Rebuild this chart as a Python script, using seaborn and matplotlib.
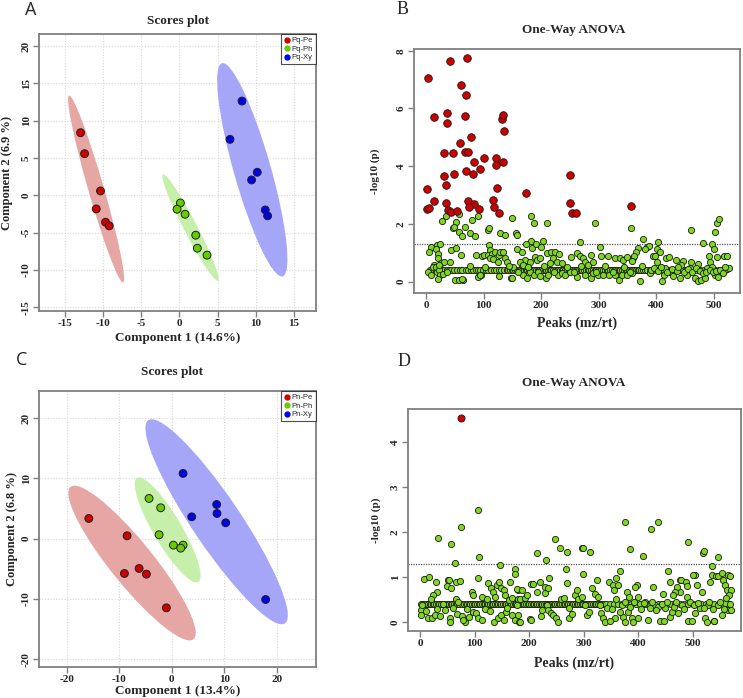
import numpy as np
import pandas as pd
import seaborn as sns
import matplotlib.pyplot as plt
from matplotlib.patches import Ellipse
from matplotlib.lines import Line2D

# ---- panel A : PLS-DA scores, Pq
a_groups = ['Pq-Pe'] * 6 + ['Pq-Ph'] * 6 + ['Pq-Xy'] * 6
a_comp1 = [-12.95, -12.43, -10.34, -10.90, -9.68, -9.20,
           0.13, -0.31, 0.74, 2.14, 2.35, 3.62,
           8.20, 6.63, 10.20, 9.46, 11.25, 11.56]
a_comp2 = [8.38, 5.57, 0.58, -1.83, -3.61, -4.10,
           -1.03, -1.87, -2.54, -5.35, -7.09, -8.02,
           12.62, 7.49, 3.08, 2.05, -1.96, -2.76]

# ---- panel C : PLS-DA scores, Pn
c_groups = ['Pn-Pe'] * 6 + ['Pn-Ph'] * 6 + ['Pn-Xy'] * 6
c_comp1 = [-15.81, -8.51, -9.02, -6.22, -4.83, -1.02,
           -4.32, -2.10, -2.41, 0.32, 2.16, 1.71,
           2.16, 3.81, 8.57, 8.63, 10.29, 17.90]
c_comp2 = [3.35, 0.47, -5.78, -4.95, -5.89, -11.48,
           6.67, 5.12, 0.64, -1.08, -1.08, -1.58,
           10.82, 3.62, 5.67, 4.18, 2.63, -10.10]

# ---- panel B : one-way ANOVA, Pq  (peak index, -log10 p)
b_sig = [(4, 7.04), (41, 7.63), (71, 7.76), (13, 5.69), (37, 5.84), (36, 5.49),
         (60, 6.82), (69, 6.47), (68, 5.73), (132, 5.64), (133, 5.77), (136, 5.23),
         (78, 5.02), (59, 4.82), (31, 4.47), (46, 4.47), (67, 4.50), (73, 4.48),
         (101, 4.30), (122, 4.30), (121, 4.05), (83, 4.13), (134, 4.15), (48, 3.73),
         (31, 3.67), (70, 3.82), (82, 3.73), (93, 3.90), (34, 3.36), (2, 3.22),
         (124, 3.26), (174, 3.09), (251, 3.68), (13, 2.78), (35, 2.73), (73, 2.79),
         (84, 2.70), (117, 2.82), (1, 2.52), (5, 2.56), (39, 2.49), (43, 2.42),
         (53, 2.46), (74, 2.58), (92, 2.51), (118, 2.59), (126, 2.39), (251, 2.71),
         (254, 2.37), (260, 2.37), (357, 2.64)]
b_ns = [(28, 2.10), (35, 2.27), (52, 2.06), (58, 2.33), (46, 1.85), (48, 1.89),
        (57, 1.71), (62, 1.59), (68, 1.88), (76, 1.70), (80, 2.15), (85, 1.57),
        (90, 2.27), (107, 1.79), (110, 1.85), (129, 1.69), (137, 1.61), (150, 2.21),
        (156, 1.69), (159, 1.62), (183, 2.26), (187, 2.04), (211, 2.03), (293, 2.03),
        (357, 1.87), (377, 1.47), (461, 1.80), (503, 1.71), (506, 2.04), (510, 2.19),
        (482, 1.35), (403, 1.39), (183, 1.41), (203, 1.41), (268, 1.39),
        (8, 1.21), (19, 1.27), (25, 1.29), (5, 1.04), (17, 1.13), (20, 0.95),
        (21, 0.81), (26, 0.65), (32, 0.67), (14, 0.58), (4, 0.35), (9, 0.25),
        (12, 0.50), (17, 0.51), (19, 0.35), (23, 0.39), (25, 0.23), (30, 0.28),
        (21, 0.08), (42, 0.69), (44, 1.09), (52, 1.18), (51, 0.07), (57, 0.06),
        (65, 0.07), (61, 0.94), (87, 0.92), (97, 0.89), (101, 0.92), (109, 1.27),
        (111, 1.10), (107, 0.92), (114, 0.96), (120, 1.04), (126, 0.92), (129, 1.04),
        (133, 1.04), (137, 0.81), (140, 0.69), (76, 0.53), (92, 0.21), (95, 0.25),
        (103, 0.52), (111, 0.81), (117, 0.79), (125, 0.70), (148, 0.12), (152, 0.52),
        (159, 1.15), (167, 0.58), (171, 0.54), (36, 0.35), (23, 0.58), (91, 0.15),
        (94, 0.23), (127, 0.20), (150, 0.12), (63, 0.08),
        (173, 1.30), (185, 1.18), (191, 1.29), (200, 1.19), (303, 1.20), (167, 1.04),
        (172, 0.75), (180, 0.69), (190, 0.87), (193, 0.75), (199, 0.81), (210, 0.98),
        (217, 1.04), (224, 1.02), (231, 0.95), (220, 0.81), (215, 0.64), (227, 0.69),
        (237, 0.64), (252, 0.87), (263, 0.98), (268, 0.90), (273, 0.81), (277, 0.69),
        (282, 0.58), (287, 0.92), (291, 0.69), (305, 0.90), (317, 0.90), (329, 0.81),
        (337, 0.81), (342, 0.75), (350, 0.85), (360, 0.81), (163, 0.69), (169, 0.58),
        (181, 0.35), (187, 0.23), (195, 0.35), (199, 0.21), (208, 0.12), (212, 0.23),
        (230, 0.25), (236, 0.29), (241, 0.25), (250, 0.35), (263, 0.17), (276, 0.25),
        (286, 0.12), (291, 0.29), (299, 0.23), (308, 0.25), (319, 0.23), (328, 0.23),
        (335, 0.06), (340, 0.25), (349, 0.23), (359, 0.29), (169, 0.23), (176, 0.12),
        (368, 1.18), (365, 1.02), (362, 0.90), (359, 0.72), (384, 1.21), (387, 1.24),
        (381, 1.13), (401, 1.15), (407, 1.02), (394, 0.89), (398, 0.90), (401, 0.69),
        (418, 0.81), (423, 0.87), (434, 0.75), (447, 0.72), (444, 0.58), (461, 0.69),
        (473, 0.60), (492, 0.90), (494, 0.69), (498, 1.29), (500, 1.15), (506, 0.87),
        (518, 0.89), (524, 0.89), (488, 0.46), (497, 0.52), (372, 0.02), (390, 0.29),
        (410, 0.02), (413, 0.23), (424, 0.35), (430, 0.20), (442, 0.12), (453, 0.23),
        (468, 0.12), (473, 0.02), (479, 0.06), (485, 0.12), (502, 0.23), (507, 0.17),
        (523, 0.44), (526, 0.46), (415, 0.46), (459, 0.49),
        (392, 0.40), (397, 0.47), (404, 0.36), (409, 0.50), (419, 0.33), (427, 0.45),
        (436, 0.38), (438, 0.52), (449, 0.35), (456, 0.44), (463, 0.32), (470, 0.48),
        (476, 0.37), (481, 0.30), (487, 0.34), (494, 0.41), (499, 0.33), (505, 0.37),
        (511, 0.42), (516, 0.30), (520, 0.50), (145, 0.55), (160, 0.33), (178, 0.50),
        (205, 0.55), (222, 0.32), (245, 0.52), (258, 0.34), (270, 0.55), (296, 0.33),
        (312, 0.55), (325, 0.35), (345, 0.52), (355, 0.34), (375, 0.55)]
# peaks sitting on the common baseline value
b_base_level = 0.42
b_base_x = [6, 10, 14, 18, 22, 27, 31, 36, 40, 44, 49, 54, 59, 63, 69, 73, 78, 81,
            86, 90, 94, 99, 104, 108, 113, 118, 122, 127, 131, 136, 140, 143, 146,
            149, 152, 155, 158, 161, 164, 167, 170, 173, 176, 179, 182, 185, 188,
            191, 194, 197, 200, 203, 206, 209, 212, 215, 218, 221, 224, 227, 230,
            233, 236, 239, 242, 245, 248, 251, 254, 257, 260, 263, 266, 269, 272,
            275, 278, 281, 284, 287, 290, 293, 296, 299, 302, 305, 308, 311, 314,
            317, 320, 323, 326, 329, 332, 335, 338, 341, 344, 347, 350, 353, 356,
            359, 362, 365, 368, 371, 374, 377, 380, 384, 389, 395, 401, 408, 414,
            420, 427, 433, 440, 446, 452, 458, 465, 471, 477, 484, 490, 496, 502,
            509, 515, 520]

# ---- panel D : one-way ANOVA, Pn
d_sig = [(74, 4.53)]
d_ns = [(32, 1.87), (57, 1.73), (64, 1.32), (75, 2.11), (105, 2.50), (107, 1.44),
        (214, 1.53), (231, 1.39), (247, 1.84), (256, 1.64), (269, 1.57), (296, 1.64),
        (298, 1.64), (312, 1.57), (376, 2.22), (385, 1.62), (408, 1.47), (424, 2.07),
        (437, 2.22), (491, 1.78), (519, 1.53), (520, 1.59), (547, 1.44), (146, 1.28),
        (173, 1.18), (174, 1.07),
        (7, 0.97), (16, 1.01), (28, 0.89), (31, 0.67), (50, 0.93), (53, 0.93),
        (65, 0.89), (72, 0.92), (49, 0.81), (57, 0.76), (66, 0.53), (70, 0.46),
        (23, 0.61), (20, 0.53), (1, 0.27), (2, 0.16), (4, 0.39), (15, 0.09),
        (21, 0.09), (27, 0.16), (36, 0.15), (42, 0.41), (54, 0.09), (55, 0.00),
        (68, 0.18), (76, 0.15), (82, 0.01), (79, 0.05), (94, 0.68), (97, 0.61),
        (106, 0.98), (113, 0.57), (122, 0.53), (125, 0.87), (130, 0.76), (134, 0.68),
        (137, 0.57), (141, 0.83), (144, 0.89), (149, 0.77), (153, 0.72), (155, 0.61),
        (162, 0.50), (165, 0.90), (169, 0.55), (179, 0.72), (179, 0.51), (97, 0.24),
        (102, 0.20), (106, 0.09), (114, 0.05), (136, 0.00), (143, 0.09), (149, 0.16),
        (153, 0.05), (158, 0.24), (168, 0.16), (174, 0.05), (182, 0.01), (10, 0.25),
        (30, 0.30), (45, 0.27), (60, 0.33), (85, 0.30), (90, 0.13), (119, 0.30),
        (128, 0.25), (160, 0.33),
        (177, 0.73), (187, 0.71), (183, 0.53), (178, 0.39), (180, 0.16), (183, 0.01),
        (192, 0.55), (196, 0.61), (203, 0.85), (206, 0.85), (215, 0.67), (220, 0.90),
        (228, 0.79), (229, 0.66), (235, 0.77), (237, 0.98), (222, 0.15), (224, 0.27),
        (201, 0.07), (204, 0.05), (232, 0.39), (235, 0.27), (239, 0.20), (244, 0.16),
        (250, 0.09), (253, 0.00), (259, 0.52), (263, 0.55), (267, 1.19), (270, 0.87),
        (273, 0.31), (273, 0.10), (278, 0.18), (284, 0.61), (287, 0.72), (290, 0.53),
        (296, 0.57), (299, 1.08), (302, 0.39), (306, 0.16), (309, 0.24), (315, 0.77),
        (321, 0.64), (325, 0.94), (327, 0.57), (330, 0.39), (332, 0.20), (336, 0.09),
        (339, 0.01), (342, 0.31), (347, 0.90), (351, 0.30), (353, 0.83), (356, 0.72),
        (360, 0.99), (362, 0.83), (366, 1.14), (370, 0.39), (373, 0.13), (376, 0.01),
        (380, 0.68), (382, 0.24), (360, 0.53), (366, 0.24), (358, 0.09), (349, 0.04),
        (535, 1.24), (536, 1.05), (542, 1.02), (546, 1.04), (554, 1.10), (565, 1.05),
        (555, 0.94), (559, 0.83), (563, 0.72), (565, 0.27), (554, 0.16), (539, 0.03),
        (532, 0.90), (517, 0.68), (508, 0.83), (505, 1.05), (501, 1.05), (455, 1.14),
        (459, 0.90), (477, 0.94), (479, 0.94), (488, 0.90), (490, 0.81), (477, 0.68),
        (472, 0.79), (467, 0.68), (463, 0.61), (489, 0.57), (445, 0.62), (428, 0.79),
        (397, 0.83), (394, 0.79), (399, 0.57), (383, 0.57), (376, 0.46), (388, 0.09),
        (390, 0.01), (400, 0.09), (418, 0.05), (440, 0.03), (448, 0.03), (459, 0.13),
        (462, 0.24), (473, 0.20), (480, 0.39), (492, 0.03), (498, 0.03), (505, 0.20),
        (523, 0.09), (526, 0.00), (540, 0.03), (449, 0.31), (431, 0.39), (413, 0.46),
        (422, 0.31), (437, 0.35), (513, 0.31), (528, 0.39), (547, 0.39), (559, 0.42),
        (568, 1.04), (570, 0.72), (571, 0.27), (566, 0.60),
        (385, 0.35), (392, 0.45), (405, 0.30), (410, 0.42), (425, 0.45), (433, 0.28),
        (443, 0.40), (452, 0.45), (465, 0.35), (470, 0.45), (484, 0.30), (495, 0.45),
        (503, 0.38), (510, 0.42), (520, 0.33), (530, 0.45), (538, 0.30), (550, 0.45),
        (557, 0.30), (562, 0.55), (568, 0.40)]
d_base_level = 0.41
d_base_x = [2, 5, 8, 11, 14, 17, 20, 23, 26, 29, 32, 35, 38, 41, 44, 47, 50, 53,
            56, 59, 62, 65, 68, 71, 77, 80, 83, 86, 89, 92, 95, 98, 101, 104, 107,
            110, 113, 116, 119, 122, 125, 128, 131, 134, 137, 140, 143, 146, 149,
            152, 155, 158, 161, 164, 167, 170, 173, 176, 179, 182, 185, 188, 191,
            194, 197, 200, 203, 206, 209, 212, 215, 218, 221, 224, 227, 230, 233,
            236, 239, 242, 245, 248, 251, 254, 257, 260, 263, 266, 269, 272, 275,
            278, 281, 284, 287, 290, 293, 296, 299, 302, 305, 308, 311, 314, 317,
            320, 323, 326, 329, 332, 335, 338, 341, 348, 355, 363, 371, 379, 387,
            396, 404, 412, 420, 428, 436, 444, 452, 460, 468, 476, 484, 492, 500,
            508, 516, 524, 532, 540, 548, 556, 564]

threshold = 1.3

grp_colors = ['#D00000', '#66CC00', '#0000EE']
ell_colors = ['#E5A6A4', '#C6EFA9', '#A6A6F8']
sig_color = '#CC0000'
ns_color = '#7ED81C'

serif = 'Liberation Serif'
sns.set_style('white')
plt.rcParams['font.family'] = ['Liberation Serif', 'DejaVu Sans']
plt.rcParams['axes.unicode_minus'] = False

fig = plt.figure(figsize=(7.43, 6.98), dpi=100)
W, H = 743, 698


def box(l, t, r, b):
    return [l / W, 1 - b / H, (r - l) / W, (b - t) / H]


def style_axes(ax, xticks, yticks):
    ax.set_xticks(xticks)
    ax.set_yticks(yticks)
    for s in ax.spines.values():
        s.set_color('#7F7F7F')
        s.set_linewidth(1.3)
    ax.tick_params(axis='both', direction='out', length=4, width=1,
                   color='#7F7F7F', labelsize=8, pad=2, left=True, bottom=True)
    for lab in ax.get_xticklabels():
        lab.set_fontweight('bold')
    for lab in ax.get_yticklabels():
        lab.set_fontweight('bold')
        lab.set_rotation(90)
        lab.set_va('center')


def place_labels(ax, xlab_y, ylab_x):
    ax.xaxis.set_label_coords(0.5, xlab_y)
    ax.yaxis.set_label_coords(ylab_x, 0.5)
    ax.xaxis.label.set_verticalalignment('center')
    ax.yaxis.label.set_verticalalignment('center')


def conf_ellipse(ax, x, y, color):
    x = np.asarray(x)
    y = np.asarray(y)
    vals, vecs = np.linalg.eigh(np.cov(x, y))
    order = vals.argsort()[::-1]
    vals, vecs = vals[order], vecs[:, order]
    ang = np.degrees(np.arctan2(vecs[1, 0], vecs[0, 0]))
    k = np.sqrt(5.991)  # 95 % level
    ax.add_patch(Ellipse((x.mean(), y.mean()), 2 * k * np.sqrt(vals[0]),
                         2 * k * np.sqrt(vals[1]), angle=ang,
                         facecolor=color, edgecolor='none', zorder=1))


def scores_panel(rect, groups, c1, c2, xlim, ylim, xticks, yticks, xlab, ylab,
                 xlab_y, ylab_x):
    ax = fig.add_axes(rect)
    df = pd.DataFrame({'c1': c1, 'c2': c2, 'g': groups})
    names = list(dict.fromkeys(groups))
    for n, ec in zip(names, ell_colors):
        sub = df[df.g == n]
        conf_ellipse(ax, sub.c1, sub.c2, ec)
    sns.scatterplot(data=df, x='c1', y='c2', hue='g', hue_order=names,
                    palette=grp_colors, s=32, edgecolor='#202020', linewidth=0.7,
                    legend=False, ax=ax, zorder=3)
    ax.set_xlim(*xlim)
    ax.set_ylim(*ylim)
    ax.grid(True, color='#D9D9D9', ls=(0, (1, 1.5)), lw=0.8)
    ax.set_axisbelow(True)
    style_axes(ax, xticks, yticks)
    ax.set_xlabel(xlab, fontsize=9.5, fontweight='bold')
    ax.set_ylabel(ylab, fontsize=9, fontweight='bold')
    place_labels(ax, xlab_y, ylab_x)
    handles = [Line2D([], [], marker='o', ls='', color=c, markersize=3.5, label=n)
               for n, c in zip(names, grp_colors)]
    leg = ax.legend(handles=handles, loc='upper right', borderaxespad=0,
                    frameon=True, fancybox=False, edgecolor='#202020',
                    prop={'family': 'Liberation Sans', 'size': 5.5},
                    handletextpad=0.2, handlelength=0.8, borderpad=0.4,
                    labelspacing=0.15)
    leg.get_frame().set_linewidth(0.8)
    return ax


def anova_panel(rect, sig, ns, base_x, base_level, xlim, ylim, yticks,
                xlab_y, ylab_x, s_ns, s_sig):
    ax = fig.add_axes(rect)
    ns_df = pd.DataFrame(ns, columns=['peak', 'p'])
    base_df = pd.DataFrame({'peak': base_x, 'p': base_level})
    ns_all = pd.concat([base_df, ns_df], ignore_index=True)
    sig_df = pd.DataFrame(sig, columns=['peak', 'p'])
    sns.scatterplot(data=ns_all, x='peak', y='p', color=ns_color, s=s_ns,
                    edgecolor='#1A1A1A', linewidth=0.6, ax=ax, zorder=3)
    sns.scatterplot(data=sig_df, x='peak', y='p', color=sig_color, s=s_sig,
                    edgecolor='#1A1A1A', linewidth=0.6, ax=ax, zorder=4)
    ax.axhline(threshold, color='#555555', ls=(0, (1, 1)), lw=0.9, zorder=2)
    ax.set_xlim(*xlim)
    ax.set_ylim(*ylim)
    style_axes(ax, [0, 100, 200, 300, 400, 500], yticks)
    ax.set_xlabel('Peaks (mz/rt)', fontsize=10, fontweight='bold')
    ax.set_ylabel('-log10 (p)', fontsize=8, fontweight='bold')
    place_labels(ax, xlab_y, ylab_x)
    return ax


scores_panel(box(39, 34, 316, 311), a_groups, a_comp1, a_comp2,
             (-18.4, 17.9), (-15.5, 21.6), range(-15, 16, 5), range(-15, 21, 5),
             'Component 1 (14.6%)', 'Component 2 (6.9 %)', -0.097, -0.115)
anova_panel(box(414, 49, 740, 293), b_sig, b_ns, b_base_x, b_base_level,
            (-21, 546), (-0.39, 8.06), [0, 2, 4, 6, 8], -0.123, -0.118, 20, 30)
scores_panel(box(39, 391, 316, 667), c_groups, c_comp1, c_comp2,
             (-25.3, 27.5), (-21.3, 24.5), range(-20, 21, 10), range(-20, 21, 10),
             'Component 1 (13.4%)', 'Component 2 (6.8 %)', -0.088, -0.097)
anova_panel(box(408, 409, 741, 631), d_sig, d_ns, d_base_x, d_base_level,
            (-22.6, 588.7), (-0.19, 4.73), [0, 1, 2, 3, 4], -0.144, -0.095, 20, 26)

# titles and panel letters
for x, y, t in [(178, 21, 'Scores plot'), (574, 30, 'One-Way ANOVA'),
                (172, 372, 'Scores plot'), (574, 383, 'One-Way ANOVA')]:
    fig.text(x / W, 1 - y / H, t, ha='center', va='center', fontsize=9.5,
             fontweight='bold', family=serif)
for x, y, t, fam in [(31, 10, 'A', 'Open Sans'), (403, 10, 'B', serif),
                     (22, 360, 'C', 'Open Sans'), (404, 362, 'D', serif)]:
    fig.text(x / W, 1 - y / H, t, ha='center', va='center', fontsize=13, family=fam)

fig.savefig('out.png', dpi=100)
